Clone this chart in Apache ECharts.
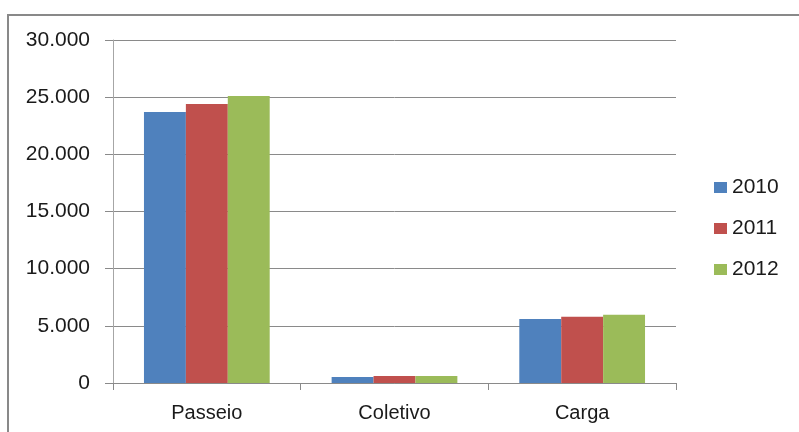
<!DOCTYPE html>
<html>
<head>
<meta charset="utf-8">
<script src="https://cdn.jsdelivr.net/npm/echarts@6/dist/echarts.min.js"></script>
<style>
  html, body { margin: 0; padding: 0; background: #fff; }
  #chart { width: 799px; height: 432px; }
</style>
</head>
<body>
<div id="chart"></div>
<script>
// dados
const categorias = ['Passeio', 'Coletivo', 'Carga'];
const anos = ['2010', '2011', '2012'];
const v2010 = [23700, 520, 5600];
const v2011 = [24400, 610, 5800];
const v2012 = [25100, 620, 5970];
const cores = ['#4F81BD', '#C0504D', '#9BBB59'];

const fonte = 'Liberation Sans';

function milhar (v) {
  return String(v).replace(/\B(?=(\d{3})+(?!\d))/g, '.');
}

const chart = echarts.init(document.getElementById('chart'));
const valores = [v2010, v2011, v2012];

chart.setOption({
  backgroundColor: '#fff',
  animation: false,
  textStyle: { fontFamily: fonte },
  graphic: [
    {
      type: 'rect',
      shape: { x: 8, y: 15, width: 1000, height: 1000 },
      style: { fill: 'none', stroke: '#898989', lineWidth: 2 },
      silent: true
    }
  ],
  grid: { left: 113, right: 123, top: 40, bottom: 49 },
  legend: {
    orient: 'vertical',
    left: 714,
    top: 177,
    padding: 0,
    icon: 'rect',
    itemWidth: 13,
    itemHeight: 11,
    itemGap: 20,
    data: anos,
    textStyle: { fontSize: 21, color: '#1a1a1a', fontFamily: fonte }
  },
  xAxis: {
    type: 'category',
    data: categorias,
    axisLine: { lineStyle: { color: '#8a8a8a', width: 1 } },
    axisTick: { show: true, length: 7, lineStyle: { color: '#8a8a8a' } },
    axisLabel: { margin: 20, fontSize: 20, color: '#1a1a1a', fontFamily: fonte }
  },
  yAxis: {
    type: 'value',
    min: 0,
    max: 30000,
    interval: 5000,
    axisLine: { show: true, lineStyle: { color: '#a6a6a6', width: 1 } },
    axisTick: { show: true, length: 8, lineStyle: { color: '#8a8a8a' } },
    splitLine: { lineStyle: { color: '#8a8a8a', width: 1 } },
    axisLabel: {
      margin: 23,
      fontSize: 21,
      color: '#1a1a1a',
      fontFamily: fonte,
      formatter: milhar
    }
  },
  series: anos.map(function (ano, i) {
    return {
      name: ano,
      type: 'bar',
      data: valores[i],
      barGap: '0%',
      barCategoryGap: '33%',
      itemStyle: { color: cores[i] }
    };
  })
});
</script>
</body>
</html>
